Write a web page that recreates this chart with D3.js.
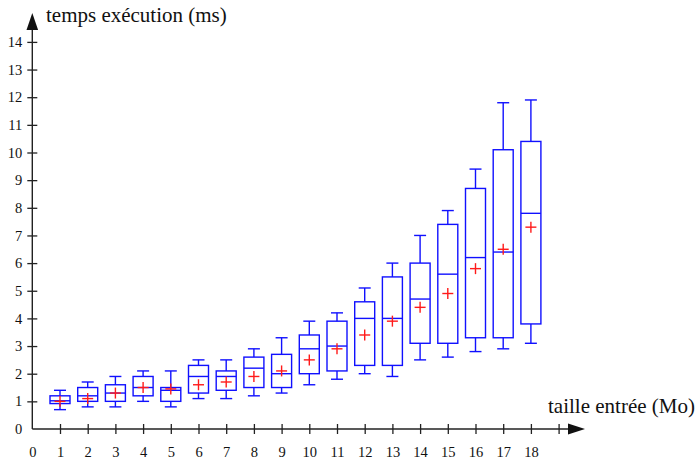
<!DOCTYPE html>
<html>
<head>
<meta charset="utf-8">
<script src="https://cdn.jsdelivr.net/npm/d3@7"></script>
<style>
  html, body { margin: 0; padding: 0; background: #fff; }
  svg { display: block; }
  svg text { font-family: "Liberation Serif", "Times New Roman", serif; fill: #111; }
</style>
</head>
<body>
<svg id="chart" width="700" height="459"></svg>
<script>
// Input size (Mo) for each measured run group
const sizes = [1, 2, 3, 4, 5, 6, 7, 8, 9, 10, 11, 12, 13, 14, 15, 16, 17, 18];
// Execution time statistics (ms)
const whiskerLow  = [0.7, 0.8, 0.8, 1.0, 0.8, 1.1, 1.1, 1.2, 1.3, 1.6, 1.8, 2.0, 1.9, 2.5, 2.6, 2.8, 2.9, 3.1];
const q1          = [0.92, 1.0, 1.0, 1.2, 1.0, 1.3, 1.4, 1.5, 1.5, 2.0, 2.1, 2.3, 2.3, 3.1, 3.1, 3.3, 3.3, 3.8];
const median      = [1.02, 1.2, 1.3, 1.5, 1.4, 1.9, 1.9, 2.2, 2.0, 2.9, 3.0, 4.0, 4.0, 4.7, 5.6, 6.2, 6.4, 7.8];
const q3          = [1.2, 1.5, 1.6, 1.9, 1.5, 2.3, 2.1, 2.6, 2.7, 3.4, 3.9, 4.6, 5.5, 6.0, 7.4, 8.7, 10.1, 10.4];
const whiskerHigh = [1.4, 1.7, 1.9, 2.1, 2.1, 2.5, 2.5, 2.9, 3.3, 3.9, 4.2, 5.1, 6.0, 7.0, 7.9, 9.4, 11.8, 11.9];
const mean        = [1.0, 1.1, 1.3, 1.5, 1.45, 1.6, 1.7, 1.9, 2.1, 2.5, 2.9, 3.4, 3.9, 4.4, 4.9, 5.8, 6.5, 7.3];
// Axis ticks
const xTicks = d3.range(0, 20);
const xTickLabels = d3.range(0, 19).map(String);
const yTicks = d3.range(0, 15);
const xTitle = "taille entrée (Mo)";
const yTitle = "temps exécution (ms)";

const serif = '"Liberation Serif", "Times New Roman", serif';
const svg = d3.select("#chart");
const x = d3.scaleLinear().domain([0, 19]).range([32.3, 32.3 + 27.7 * 19]);
const y = d3.scaleLinear().domain([0, 14]).range([429, 429 - 27.65 * 14]);
const axisColor = "#222";

const rows = sizes.map((s, i) => ({
  s, lo: whiskerLow[i], q1: q1[i], med: median[i], q3: q3[i], hi: whiskerHigh[i], mean: mean[i]
}));

// Boxes and whiskers
const boxW = 20, capW = 12, crossR = 5.5;
const g = svg.append("g").attr("fill", "none");
const box = g.selectAll("g.box").data(rows).join("g").attr("class", "box")
  .attr("stroke", "#1010ff").attr("stroke-width", 1.4);
box.append("line").attr("x1", d => x(d.s)).attr("x2", d => x(d.s))
  .attr("y1", d => y(d.hi)).attr("y2", d => y(d.q3));
box.append("line").attr("x1", d => x(d.s)).attr("x2", d => x(d.s))
  .attr("y1", d => y(d.q1)).attr("y2", d => y(d.lo));
box.append("line").attr("x1", d => x(d.s) - capW / 2).attr("x2", d => x(d.s) + capW / 2)
  .attr("y1", d => y(d.hi)).attr("y2", d => y(d.hi));
box.append("line").attr("x1", d => x(d.s) - capW / 2).attr("x2", d => x(d.s) + capW / 2)
  .attr("y1", d => y(d.lo)).attr("y2", d => y(d.lo));
box.append("rect").attr("x", d => x(d.s) - boxW / 2).attr("width", boxW)
  .attr("y", d => y(d.q3)).attr("height", d => y(d.q1) - y(d.q3));
box.append("line").attr("x1", d => x(d.s) - boxW / 2).attr("x2", d => x(d.s) + boxW / 2)
  .attr("y1", d => y(d.med)).attr("y2", d => y(d.med));

// Mean markers
const cross = g.selectAll("g.mean").data(rows).join("g").attr("class", "mean")
  .attr("stroke", "#ff1a1a").attr("stroke-width", 1.4);
cross.append("line").attr("x1", d => x(d.s) - crossR).attr("x2", d => x(d.s) + crossR)
  .attr("y1", d => y(d.mean)).attr("y2", d => y(d.mean));
cross.append("line").attr("x1", d => x(d.s)).attr("x2", d => x(d.s))
  .attr("y1", d => y(d.mean) - crossR).attr("y2", d => y(d.mean) + crossR);

// X axis
const xAxis = svg.append("g").attr("transform", `translate(0,${y(0)})`)
  .call(d3.axisBottom(x).tickValues(xTicks)
    .tickFormat(d => d < xTickLabels.length ? xTickLabels[d] : "")
    .tickSizeOuter(0).tickSizeInner(5).tickPadding(12.5));
xAxis.attr("font-family", null).attr("font-size", null);
xAxis.select(".domain").remove();
xAxis.selectAll(".tick line").attr("y1", -5).attr("y2", 5)
  .attr("stroke", axisColor).attr("stroke-width", 1.3)
  .filter(d => d === 0).remove();
xAxis.selectAll(".tick text")
  .style("font-family", serif).style("font-size", "14.5px").style("fill", "#111");

// Y axis
const yAxis = svg.append("g").attr("transform", `translate(${x(0)},0)`)
  .call(d3.axisLeft(y).tickValues(yTicks).tickFormat(d3.format("d"))
    .tickSizeOuter(0).tickSizeInner(5).tickPadding(5));
yAxis.attr("font-family", null).attr("font-size", null);
yAxis.select(".domain").remove();
yAxis.selectAll(".tick line").attr("x1", -5).attr("x2", 5)
  .attr("stroke", axisColor).attr("stroke-width", 1.3)
  .filter(d => d === 0).remove();
yAxis.selectAll(".tick text")
  .style("font-family", serif).style("font-size", "14.5px").style("fill", "#111");

// Axis lines with arrow heads
const x0 = x(0), y0 = y(0);
svg.append("line").attr("x1", x0).attr("x2", 572).attr("y1", y0).attr("y2", y0)
  .attr("stroke", axisColor).attr("stroke-width", 1.4);
svg.append("path").attr("d", `M585,${y0} L568,${y0 - 5.5} L568,${y0 + 5.5} Z`).attr("fill", "#111");
svg.append("line").attr("x1", x0).attr("x2", x0).attr("y1", y0).attr("y2", 26)
  .attr("stroke", axisColor).attr("stroke-width", 1.4);
svg.append("path").attr("d", `M${x0},13 L${x0 - 5.8},30 L${x0 + 5.8},30 Z`).attr("fill", "#111");

// Axis titles
svg.append("text").attr("x", 46).attr("y", 22).style("font-size", "21px").text(yTitle);
svg.append("text").attr("x", 548).attr("y", 413).style("font-size", "21px").text(xTitle);
</script>
</body>
</html>
